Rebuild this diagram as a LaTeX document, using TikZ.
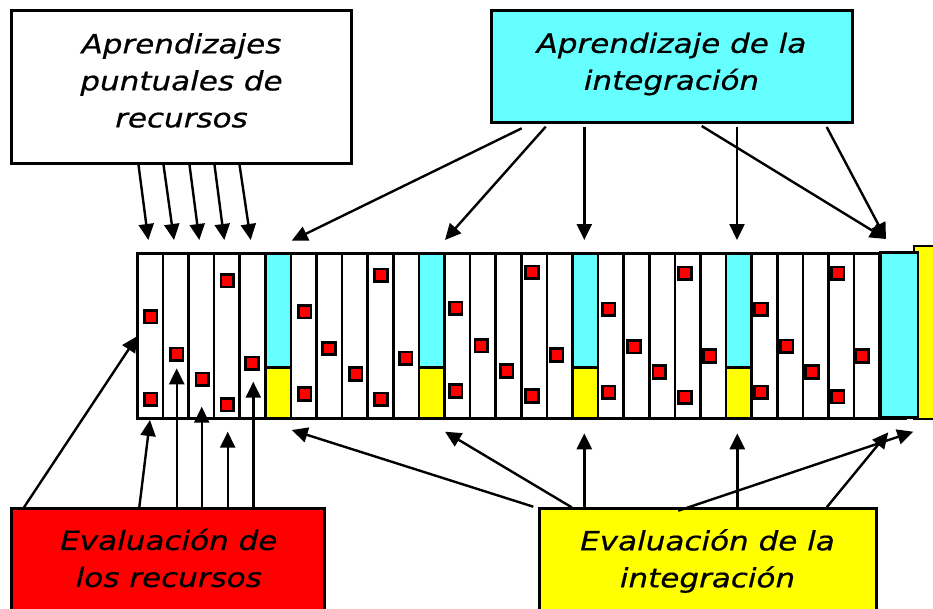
\documentclass[tikz,border=0pt]{standalone}
\usepackage{fontspec}
\newfontfamily\vf[FakeStretch=1.17,FakeBold=0.6]{DejaVu Sans}
\usetikzlibrary{arrows.meta}
\definecolor{cyn}{RGB}{102,255,255}
\definecolor{ylw}{RGB}{255,255,0}
\definecolor{rd}{RGB}{255,0,0}
\begin{document}
\begin{tikzpicture}[x=1pt,y=-1pt,
  lbl/.style={font=\vf\itshape\fontsize{26.5}{37}\selectfont, align=center, inner sep=0pt},
  boxn/.style={draw=black, line width=3pt, anchor=north west, inner sep=0pt},
  arr/.style={line width=2.4pt, -{Triangle[length=16pt,width=15pt]}},
  col/.style={draw=black, line width=2.5pt},
  sq/.style={draw=black, fill=rd, line width=2.6pt, minimum size=12.5pt, inner sep=0pt}]
\useasboundingbox (0,0) rectangle (933,608);
\clip (0,0) rectangle (933,608);
% boxes
\node[boxn, fill=white, minimum width=340pt, minimum height=152.4pt] (tl) at (10,9.3) {};
\node[lbl] (tlt) at (181.5,80.5) {Aprendizajes\\puntuales de\\recursos};
\node[boxn, fill=cyn, minimum width=361pt, minimum height=111.4pt] (tr) at (490,9.3) {};
\node[lbl] (trt) at (671.5,64) {Aprendizaje de la\\integración};
\node[boxn, fill=rd, minimum width=313.3pt, minimum height=130pt] (bl) at (10,507.3) {};
\node[lbl] (blt) at (168.8,558) {Evaluación de\\los recursos};
\node[boxn, fill=ylw, minimum width=336.7pt, minimum height=130pt] (br) at (538.3,507.3) {};
\node[lbl] (brt) at (707.5,561) {Evaluación de la\\integración};
% strip
\foreach \k in {0,...,29}{
  \pgfmathsetmacro\xa{137.3+25.6*\k}
  \pgfmathsetmacro\xb{\xa+25.6}
  \pgfmathtruncatemacro\m{mod(\k,6)}
  \ifnum\m=5
    \fill[cyn] (\xa,253.3) rectangle (\xb,367.7);
    \fill[ylw] (\xa,367.7) rectangle (\xb,418.3);
    \draw[col] (\xa,367.7) -- (\xb,367.7);
  \fi
  \draw[col] (\xa,253.3) rectangle (\xb,418.3);
}
\draw[col, fill=ylw] (914,246) rectangle (945,419);
\draw[col, fill=cyn] (880.5,252.7) rectangle (918,417.7);
% red squares
\foreach \x/\y [count=\i] in {150.7/316.7,150.7/399.3,176.7/354.3,202.3/379.3,227.3/280.7,227.3/404.7,252/363.3,
  304.7/311.7,304.7/394,329/348.5,355.7/374,381/275.3,381/399.3,405.7/358.3,
  455.7/308.3,455.7/391,481.3/345.7,506.7/371,532/272.3,532/396,556.7/355,
  608.7/309.3,608.7/392.3,634/346.7,659.3/372,685/273.3,685/397.3,709.7/356,
  761/309.3,761/392.3,786.7/346.3,812/372,837.7/273.3,837.7/396.7,862/356}
  \node[sq] (s\i) at (\x,\y) {};
% connector end points
\foreach \n/\x/\y in {p1/138.3/163.3, q1/148.3/240, p2/163.3/163.3, q2/174/240, p3/189.3/163.3, q3/199.3/240,
  p4/214.3/163.3, q4/224.3/240, p5/239.3/163.3, q5/250.7/240,
  c1/521.7/128.3, d1/291.7/240.7, c2/545.7/126.7, d2/445/240, c3/584.3/127, d3/584.3/240,
  c4/701.7/126, d4/886/239, c5/737/127, d5/737/240, c6/826.7/127,
  r1/24/507.3, e1/137.5/336, r2/139.3/507.3, e2/150/420, r3/176.7/507.3, e3/176.7/368.3,
  r4/201.7/507.3, e4/201.7/406.7, r5/227.7/507.3, e5/227.7/431.7, r6/253.3/507.3, e6/253.3/381.7,
  y1/533.3/506.7, f1/291.7/430, y2/571.7/507.3, f2/445/431.7, y3/584.3/507.3, f3/584.3/433.3,
  y4/678.3/510.7, f4/913.3/431.7, y5/737.3/507.3, f5/737.3/433.3, y6/826.7/507.3, f6/888.3/432.3}
  \coordinate (\n) at (\x,\y);
% arrows from top-left box
\foreach \i in {1,...,5} \draw[arr] (p\i) -- (q\i);
% arrows from cyan box
\draw[arr] (c1) -- (d1);
\draw[arr] (c2) -- (d2);
\draw[arr] (c3) -- (d3);
\draw[arr] (c4) -- (d4);
\draw[arr] (c5) -- (d5);
\draw[arr] (c6) -- (d4);
% arrows from red box
\foreach \i in {1,...,6} \draw[arr] (r\i) -- (e\i);
% arrows from yellow box
\foreach \i in {1,...,6} \draw[arr] (y\i) -- (f\i);
\end{tikzpicture}
\end{document}
